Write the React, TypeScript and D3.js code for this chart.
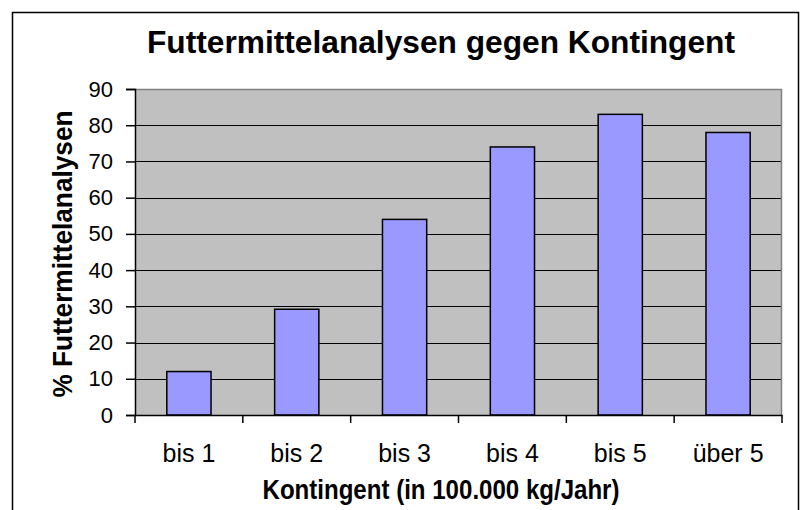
import React, { useEffect, useRef } from 'react';
import * as d3 from 'd3';

const categories = ['bis 1', 'bis 2', 'bis 3', 'bis 4', 'bis 5', 'über 5'];
const values = [12, 29.2, 54, 74, 83, 78];
const yTicks = [0, 10, 20, 30, 40, 50, 60, 70, 80, 90];

const FONT = '"Liberation Sans", Arial, sans-serif';

const App = () => {
    const ref = useRef<SVGSVGElement>(null);

    const graph = () => {
        const svgCanvas = d3.select(ref.current);
        svgCanvas.selectAll('*').remove();

        const width = 800,
            height = 510,
            margin = { top: 89, right: 18, bottom: 95, left: 135 };

        const x = d3.scaleBand().domain(categories)
            .range([margin.left, width - margin.right])
            .paddingInner(0.59)
            .paddingOuter(0.295);

        const band = d3.scaleBand().domain(categories)
            .range([margin.left, width - margin.right]);

        const y = d3.scaleLinear()
            .domain([0, 90])
            .range([height - margin.bottom, margin.top]);

        // outer frame
        svgCanvas.append('rect')
            .attr('x', 12.5).attr('y', 12.5)
            .attr('width', 786).attr('height', 520)
            .attr('fill', 'white').attr('stroke', 'black').attr('stroke-width', 1.5);

        // plot background
        svgCanvas.append('rect')
            .attr('x', margin.left).attr('y', margin.top)
            .attr('width', width - margin.right - margin.left)
            .attr('height', height - margin.bottom - margin.top)
            .attr('fill', '#C0C0C0');

        // grid lines
        svgCanvas.append('g')
            .selectAll('line')
            .data(yTicks.slice(1, -1))
            .enter()
            .append('line')
            .attr('x1', margin.left).attr('x2', width - margin.right)
            .attr('y1', d => Math.round(y(d)) + 0.5).attr('y2', d => Math.round(y(d)) + 0.5)
            .attr('stroke', 'black').attr('stroke-width', 1.2);

        // plot border top/right
        svgCanvas.append('path')
            .attr('d', `M${margin.left},${margin.top + 0.5}H${width - margin.right - 0.5}V${height - margin.bottom}`)
            .attr('fill', 'none').attr('stroke', '#808080').attr('stroke-width', 1.5);

        // bars
        svgCanvas.selectAll('rect.bar')
            .data(values)
            .enter()
            .append('rect')
            .attr('class', 'bar')
            .attr('x', (d, i) => x(categories[i]) as number)
            .attr('width', x.bandwidth())
            .attr('y', d => y(d))
            .attr('height', d => y(0) - y(d))
            .attr('fill', '#9999FF')
            .attr('stroke', 'black')
            .attr('stroke-width', 1.5);

        // y axis
        const yAxis = svgCanvas.append('g')
            .attr('transform', `translate(${margin.left}, 0)`)
            .call(d3.axisLeft(y).tickValues(yTicks).tickSize(9).tickPadding(13).tickFormat(d3.format('d')));

        // x axis
        const xAxis = svgCanvas.append('g')
            .attr('transform', `translate(0, ${height - margin.bottom})`)
            .call(d3.axisBottom(band).tickSize(0).tickPadding(29));

        xAxis.append('g')
            .selectAll('line')
            .data([...categories.map(c => band(c) as number), width - margin.right])
            .enter()
            .append('line')
            .attr('x1', d => d).attr('x2', d => d)
            .attr('y1', 0).attr('y2', 8)
            .attr('stroke', 'black').attr('stroke-width', 1.5);

        svgCanvas.selectAll('.domain').attr('stroke', 'black').attr('stroke-width', 1.5);
        yAxis.selectAll('.tick line').attr('stroke', 'black').attr('stroke-width', 1.5);
        yAxis.selectAll('.tick text')
            .style('font-family', FONT).style('font-size', '22px').style('fill', 'black');
        xAxis.selectAll('.tick text')
            .style('font-family', FONT).style('font-size', '25px').style('fill', 'black');

        // titles
        svgCanvas.append('text')
            .attr('x', 441).attr('y', 53)
            .attr('text-anchor', 'middle')
            .attr('textLength', 588).attr('lengthAdjust', 'spacingAndGlyphs')
            .style('font-family', FONT).style('font-size', '32px').style('font-weight', 'bold')
            .text('Futtermittelanalysen gegen Kontingent');

        svgCanvas.append('text')
            .attr('x', 441).attr('y', 499)
            .attr('text-anchor', 'middle')
            .attr('textLength', 357).attr('lengthAdjust', 'spacingAndGlyphs')
            .style('font-family', FONT).style('font-size', '28px').style('font-weight', 'bold')
            .text('Kontingent (in 100.000 kg/Jahr)');

        svgCanvas.append('text')
            .attr('transform', `translate(72, 254) rotate(-90)`)
            .attr('text-anchor', 'middle')
            .attr('textLength', 287).attr('lengthAdjust', 'spacingAndGlyphs')
            .style('font-family', FONT).style('font-size', '27px').style('font-weight', 'bold')
            .text('% Futtermittelanalysen');
    };

    useEffect(() => graph());

    return (
        <svg ref={ref} width="800" height="510"
            style={{ position: 'absolute', left: 0, top: 0, background: 'white' }}></svg>
    );
};

export default App;
